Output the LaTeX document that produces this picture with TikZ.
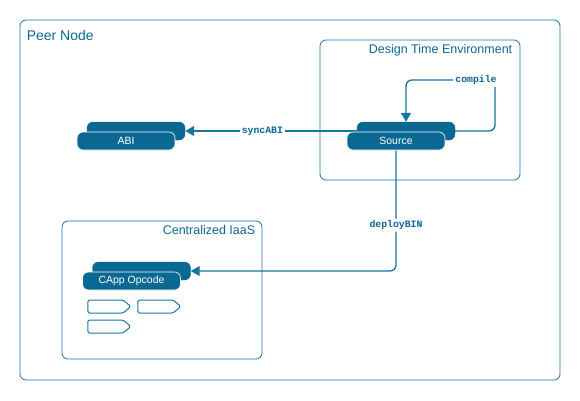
\documentclass[tikz,border=0pt]{standalone}
\usepackage{fontspec}
\setmainfont{Liberation Sans}
\setmonofont{Liberation Mono}
\usetikzlibrary{arrows.meta, positioning, shapes.symbols, backgrounds}
\definecolor{peerline}{HTML}{1574A2}
\definecolor{peerfill}{HTML}{0A6892}
\tikzset{
  framebox/.style = {draw=peerline, line width=0.8pt, rounded corners=6pt},
  cardbox/.style  = {fill=peerfill, rounded corners=6pt},
}

\begin{document}
\begin{tikzpicture}[
            x=1pt, y=-1pt,
            >={Triangle[length=9pt, width=10pt]},
            frame/.style  ={framebox, inner sep=0pt},
            flbl/.style   ={font=\fontsize{12.5}{14}\selectfont, text=peerfill, inner sep=0pt},
            back/.style   ={cardbox, draw=peerfill, minimum width=98pt,
                    minimum height=18pt, inner sep=0pt},
            front/.style  ={cardbox, draw=white, line width=0.6pt, minimum width=98pt,
                    minimum height=18pt, inner sep=0pt, text=white,
                    font=\fontsize{10.5}{12}\selectfont},
            op/.style     ={signal, signal to=east, signal pointer angle=80,
                    draw=peerline, line width=1pt, rounded corners=1.5pt,
                    minimum width=43pt, minimum height=13pt, inner sep=0pt},
            flow/.style   ={->, draw=peerline, line width=1.3pt},
            elbl/.style   ={font=\ttfamily\bfseries\fontsize{9.8}{11}\selectfont,
                    text=peerfill, fill=white, inner sep=2pt}
        ]
        \useasboundingbox (0,0) rectangle (580,400);

        %% --- Frames ---------------------------------------------------------
        \node[frame, minimum width=540pt, minimum height=360pt] (peer) at (290,200) {};
        \node[flbl, font=\fontsize{14}{16}\selectfont, anchor=north west]
            at ([xshift=7pt, yshift=-11pt]peer.north west) {Peer Node};

        \node[frame, minimum width=200pt, minimum height=140pt] (dte) at (420,110) {};
        \node[flbl, anchor=north east]
            at ([xshift=-8pt, yshift=-5pt]dte.north east) {Design Time Environment};

        \node[frame, minimum width=200pt, minimum height=138pt] (iaas) at (162,290) {};
        \node[flbl, anchor=north east]
            at ([xshift=-7pt, yshift=-5pt]iaas.north east) {Centralized IaaS};

        %% --- Stacked cards (back one first) -------------------------------
        \node[back] (abiB) at (136,131) {};
        \node[front] (abi) at ([shift={(-10,10)}]abiB.center) {ABI};

        \node[back] (srcB) at (406,131) {};
        \node[front] (src) at ([shift={(-10,10)}]srcB.center) {Source};

        \node[back] (cappB) at (141.5,271) {};
        \node[front] (capp) at ([shift={(-10,10)}]cappB.center) {CApp Opcode};

        %% --- Opcodes --------------------------------------------------------
        \node[op] (op1) at (105.5,306.5) {};
        \node[op] (op2) at (155.5,306.5) {};
        \node[op] (op3) at (105.5,326.5) {};

        %% --- Connectors (kept behind the cards) ---------------------------
        \coordinate (cmpC) at (495,80);
        \begin{pgfonlayer}{background}
            \draw[flow] (srcB.west) -- node[elbl, pos=0.55]{syncABI} (abiB.east);
            \draw[flow, rounded corners=6pt] (srcB.east) -| (cmpC) -| (srcB.north);
            \draw[flow, rounded corners=6pt] (src.south) |- node[elbl, pos=0.31]{deployBIN}
                (cappB.east);
        \end{pgfonlayer}
        \node[elbl] (cmpl) at (476,80) {compile};

    \end{tikzpicture}
\end{document}
